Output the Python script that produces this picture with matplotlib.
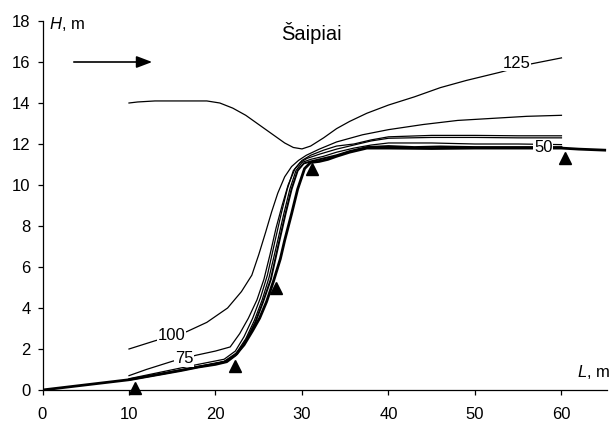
import matplotlib
matplotlib.use("Agg")
import matplotlib.pyplot as plt

plt.rcParams['font.family'] = ['Liberation Sans', 'DejaVu Sans']
plt.rcParams['mathtext.fontset'] = 'custom'
plt.rcParams['mathtext.it'] = 'Liberation Sans:italic'
plt.rcParams['mathtext.rm'] = 'Liberation Sans'

# water surface profiles, L [m] vs H [m]
L125 = [10, 11, 13, 16, 19, 20.5, 22, 23.5, 25, 26.5, 28, 29, 30, 31, 32.5, 34, 35.5, 37.5, 40, 43, 46, 49, 52.9, 56.4, 60]
H125 = [14.0, 14.05, 14.1, 14.1, 14.1, 14.0, 13.75, 13.4, 12.95, 12.5, 12.05, 11.83, 11.76, 11.9, 12.3, 12.75, 13.1, 13.5, 13.9, 14.3, 14.75, 15.1, 15.5, 15.9, 16.2]

L100 = [10, 13, 16.7, 19, 21.4, 23, 24.2, 25.0, 25.8, 26.5, 27.2, 28.0, 28.8, 29.6, 30.5, 32, 34, 37, 40, 44, 48, 52, 56, 60]
H100 = [2.0, 2.4, 2.85, 3.3, 4.0, 4.8, 5.6, 6.6, 7.7, 8.7, 9.6, 10.4, 10.9, 11.2, 11.45, 11.75, 12.1, 12.45, 12.7, 12.95, 13.15, 13.25, 13.35, 13.4]

L75 = [10, 12, 15, 17.8, 20, 21.7, 22.8, 23.8, 24.8, 25.6, 26.3, 27.0, 27.7, 28.4, 29.2, 30, 31, 32.5, 34, 36, 38, 40, 45, 50, 55, 60]
H75 = [0.7, 1.0, 1.4, 1.7, 1.9, 2.1, 2.75, 3.5, 4.4, 5.4, 6.6, 7.9, 9.0, 10.0, 10.8, 11.2, 11.45, 11.7, 11.9, 12.0, 12.2, 12.35, 12.42, 12.42, 12.4, 12.4]

LA = [10, 14, 18, 21, 22.3, 23.3, 24.3, 25.2, 26, 26.9, 27.6, 28.3, 29.0, 29.8, 30.6, 32, 34, 36, 38, 40, 45, 50, 55, 60]
HA = [0.55, 0.9, 1.25, 1.5, 1.9, 2.6, 3.5, 4.5, 5.6, 7.3, 8.6, 9.8, 10.7, 11.1, 11.3, 11.5, 11.75, 11.95, 12.15, 12.28, 12.32, 12.32, 12.3, 12.3]

L50 = [10, 14, 18, 21, 22.4, 23.5, 24.5, 25.4, 26.2, 27.2, 27.9, 28.6, 29.3, 30.0, 31, 32.5, 34, 36, 38, 40, 45, 50, 55, 60]
H50 = [0.5, 0.82, 1.15, 1.4, 1.8, 2.5, 3.4, 4.4, 5.5, 7.3, 8.6, 9.8, 10.7, 11.1, 11.25, 11.4, 11.6, 11.8, 11.95, 12.05, 12.05, 12.0, 12.0, 11.97]

LB = [10, 14, 18, 21, 22.5, 23.6, 24.6, 25.5, 26.4, 27.4, 28.1, 28.8, 29.5, 30.2, 31, 32.5, 34, 35.5, 37.5, 40, 43, 46, 50, 55, 60]
HB = [0.5, 0.8, 1.12, 1.36, 1.75, 2.45, 3.3, 4.3, 5.4, 7.3, 8.6, 9.8, 10.7, 11.05, 11.15, 11.3, 11.45, 11.65, 11.85, 11.9, 11.85, 11.88, 11.85, 11.85, 11.85]

Lbot = [0, 2, 4, 6, 8, 10, 12, 14, 16, 18, 20, 21.3, 22.3, 23.3, 24.3, 25.1, 25.9, 26.7, 27.5, 28.0, 28.8, 29.5, 30.3, 31, 32, 33, 34, 35.5, 37.5, 40, 45, 50, 55, 60, 62, 65]
Hbot = [0, 0.1, 0.2, 0.3, 0.4, 0.5, 0.65, 0.8, 0.95, 1.12, 1.25, 1.38, 1.7, 2.2, 2.9, 3.5, 4.3, 5.3, 6.4, 7.3, 8.6, 9.8, 10.8, 11.1, 11.15, 11.25, 11.4, 11.6, 11.8, 11.8, 11.78, 11.8, 11.8, 11.8, 11.75, 11.7]

# gauge stations (triangles)
L_gauge = [10.7, 22.25, 27.0, 31.2, 60.4]
H_gauge = [0.1, 1.15, 5.0, 10.8, 11.3]

curve_labels = ["125", "100", "75", "50"]
label_L = [54.8, 14.9, 16.4, 57.9]
label_H = [15.95, 2.68, 1.54, 11.85]

fig = plt.figure(figsize=(6.11, 4.22), dpi=100)
ax = fig.add_axes([42.5/611, 32/422, (607.3-42.5)/611, 369/422])

for xs, ys in [(L125, H125), (L100, H100), (L75, H75), (LA, HA), (L50, H50)]:
    ax.plot(xs, ys, color='black', lw=0.9)
ax.plot(LB, HB, color='black', lw=1.4)
ax.plot(Lbot, Hbot, color='black', lw=2.0)

ax.plot(L_gauge, H_gauge, linestyle='none', marker='^', color='black', markersize=9, clip_on=False, zorder=5)

for t, x, y in zip(curve_labels, label_L, label_H):
    ax.text(x, y, t, fontsize=12, ha='center', va='center', zorder=4,
            bbox=dict(facecolor='white', edgecolor='none', pad=0.5))

ax.annotate('', xy=(13.0, 16.0), xytext=(3.3, 16.0),
            arrowprops=dict(arrowstyle='-|>,head_length=0.95,head_width=0.36',
                            color='black', lw=1.2, mutation_scale=10))

ax.text(31.1, 17.4, 'Šaipiai', fontsize=14.5, ha='center', va='center')
ax.text(0.8, 17.85, r'$H$, m', fontsize=12, ha='left', va='center')
ax.text(61.8, 0.88, r'$L$, m', fontsize=12, ha='left', va='center')

ax.set_xlim(0, 65.3)
ax.set_ylim(0, 18)
ax.set_xticks(range(0, 61, 10))
ax.set_yticks(range(0, 19, 2))
ax.spines['top'].set_visible(False)
ax.spines['right'].set_visible(False)
for s in ['left', 'bottom']:
    ax.spines[s].set_linewidth(0.9)
ax.tick_params(axis='both', direction='out', length=3.5, width=0.9, labelsize=12)
ax.tick_params(axis='x', pad=9)
ax.tick_params(axis='y', pad=5)

fig.savefig('out.png', dpi=100)
